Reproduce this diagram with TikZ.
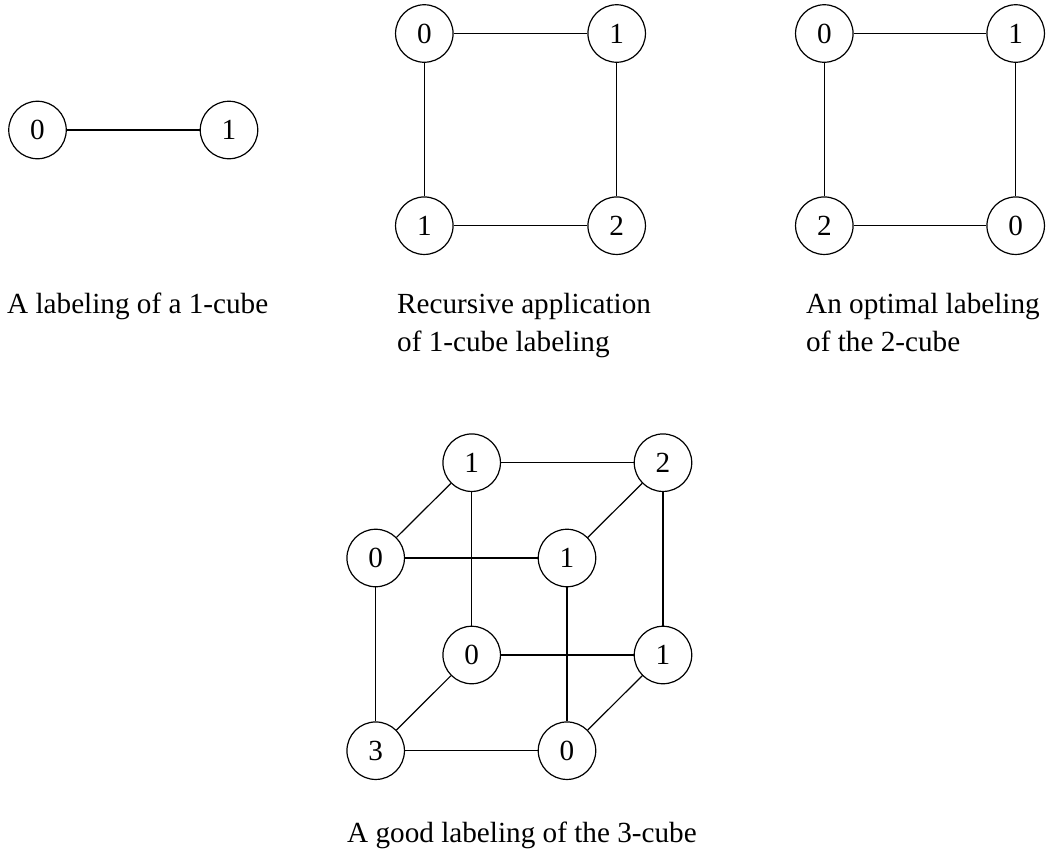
\documentclass[tikz,border=0pt]{standalone}
\usepackage{fontspec}
\setmainfont{Liberation Serif}
\begin{document}
\begin{tikzpicture}[x=1pt,y=-1pt,
  vtx/.style={draw,circle,minimum size=57.5pt,inner sep=0pt,line width=1.2pt,font=\fontsize{29.2}{35}\selectfont},
  edge/.style={line width=1.2pt},
  captxt/.style={anchor=base west,inner sep=0pt,font=\fontsize{29.2}{35}\selectfont}]
\useasboundingbox (0,0) rectangle (1047,855);
% 1-cube
\node[vtx] (a0) at (37.5,130) {0};
\node[vtx] (a1) at (229,130) {1};
\draw[edge] (a0) -- (a1);
\node[captxt] (ca) at (7,313) {A labeling of a 1-cube};
% recursive 2-cube
\node[vtx] (b00) at (424.3,33.5) {0};
\node[vtx] (b01) at (616.7,33.5) {1};
\node[vtx] (b10) at (424.3,225.7) {1};
\node[vtx] (b11) at (616.7,225.7) {2};
\draw[edge] (b00) -- (b01) (b00) -- (b10) (b10) -- (b11) (b01) -- (b11);
\node[captxt] (cb1) at (397,313) {Recursive application};
\node[captxt] (cb2) at (397,351.5) {of 1-cube labeling};
% optimal 2-cube
\node[vtx] (c00) at (824.3,33.5) {0};
\node[vtx] (c01) at (1015.7,33.5) {1};
\node[vtx] (c10) at (824.3,225.7) {2};
\node[vtx] (c11) at (1015.7,225.7) {0};
\draw[edge] (c00) -- (c01) (c00) -- (c10) (c10) -- (c11) (c01) -- (c11);
\node[captxt] (cc1) at (806,313) {An optimal labeling};
\node[captxt] (cc2) at (806,351.5) {of the 2-cube};
% 3-cube
\node[vtx] (ftl) at (375.7,558) {0};
\node[vtx] (ftr) at (567,558) {1};
\node[vtx] (fbl) at (375.7,750.7) {3};
\node[vtx] (fbr) at (567,750.7) {0};
\node[vtx] (btl) at (471.7,462.7) {1};
\node[vtx] (btr) at (663,462.7) {2};
\node[vtx] (bbl) at (471.7,655) {0};
\node[vtx] (bbr) at (663,655) {1};
\draw[edge] (ftl) -- (ftr) (ftl) -- (fbl) (fbl) -- (fbr) (ftr) -- (fbr);
\draw[edge] (btl) -- (btr) (btl) -- (bbl) (bbl) -- (bbr) (btr) -- (bbr);
\draw[edge] (ftl) -- (btl) (ftr) -- (btr) (fbl) -- (bbl) (fbr) -- (bbr);
\node[captxt] (cd) at (347,842) {A good labeling of the 3-cube};
\end{tikzpicture}
\end{document}
